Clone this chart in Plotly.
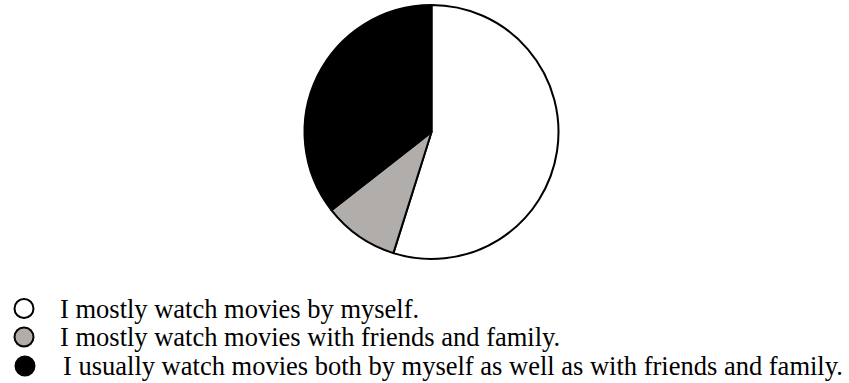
import plotly.graph_objects as go

labels = ["I mostly watch movies by myself.",
          "I mostly watch movies with friends and family.",
          "I usually watch movies both by myself as well as with friends and family."]
values = [54.85, 9.6, 35.55]
colors = ["#ffffff", "#b0adab", "#000000"]

W, H = 849, 383
fig = go.Figure()
fig.add_trace(go.Pie(
    labels=labels, values=values, sort=False, direction="clockwise", rotation=0,
    marker=dict(colors=colors, line=dict(color="#000000", width=2)),
    textinfo="none", hoverinfo="label+percent", showlegend=False,
    domain=dict(x=[304.5/W, 558.5/W], y=[1-259.5/H, 1-4.5/H]),
))

icon_y = [308.5, 337, 366]
icon_x = [24, 24, 25]
text_x = [58, 58, 61]
for i, lab in enumerate(labels):
    cx, cy = icon_x[i], icon_y[i]
    fig.add_shape(type="circle", xref="paper", yref="paper",
                  x0=(cx-9.5)/W, x1=(cx+9.5)/W, y0=1-(cy+9.5)/H, y1=1-(cy-9.5)/H,
                  fillcolor=colors[i], line=dict(color="#000000", width=2))
    fig.add_annotation(text=lab, xref="paper", yref="paper",
                       x=text_x[i]/W, y=1-cy/H, xanchor="left", yanchor="middle",
                       showarrow=False,
                       font=dict(family="Liberation Serif", size=26.5, color="#000000"))

fig.update_layout(width=W, height=H, margin=dict(l=0, r=0, t=0, b=0),
                  paper_bgcolor="#ffffff", plot_bgcolor="#ffffff")
fig.write_html("out.html")
